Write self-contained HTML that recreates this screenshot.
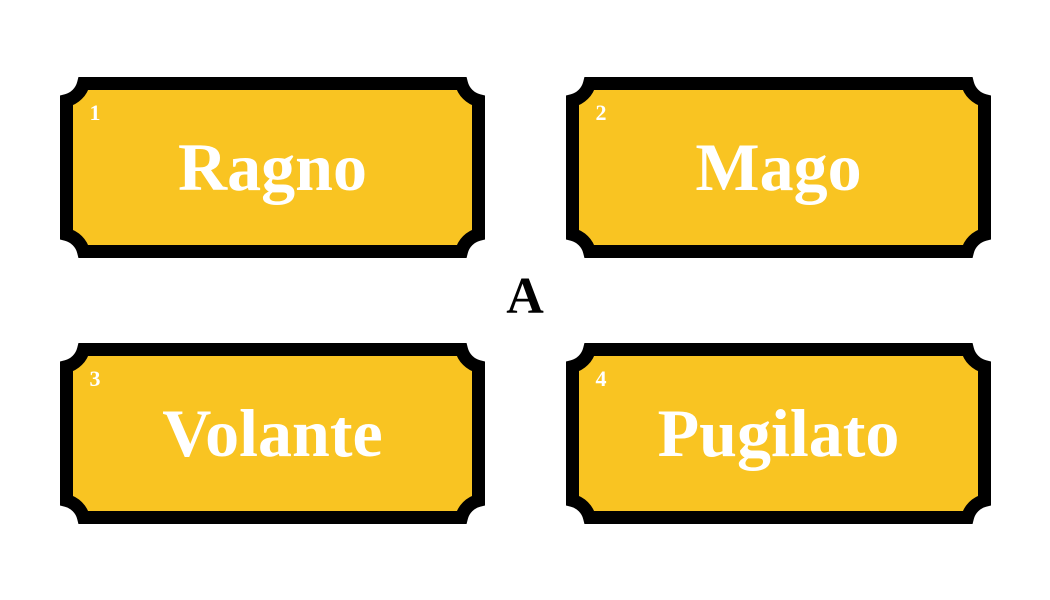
<!DOCTYPE html>
<html><head><meta charset="utf-8"><style>
html,body{margin:0;padding:0;background:#fff;width:1050px;height:600px;overflow:hidden}
svg text{font-family:"Liberation Serif",serif;font-weight:bold}
</style></head><body>
<svg width="1050" height="600" viewBox="0 0 1050 600">
<script>
const labels=["Ragno","Mago","Volante","Pugilato"];
const nums=["1","2","3","4"];
</script>
<g id="cards"></g>
<text x="525" y="313" text-anchor="middle" font-size="52" fill="#000">A</text>
<script>
const g=document.getElementById('cards');
const ns='http://www.w3.org/2000/svg';
const pos=[[60,77],[566,77],[60,343],[566,343]];
const W=425,H=181,r=23.5,s=6.5;
labels.forEach((lab,i)=>{
  const [x0,y0]=pos[i];
  const grp=document.createElementNS(ns,'g');
  
  
  const L=x0+s,T=y0+s,R=x0+W-s,B=y0+H-s;
  const p=document.createElementNS(ns,'path');
  const d2=`M${L+r-s} ${T} L${R-r+s} ${T} A${r} ${r} 0 0 0 ${R} ${T+r-s} L${R} ${B-r+s} A${r} ${r} 0 0 0 ${R-r+s} ${B} L${L+r-s} ${B} A${r} ${r} 0 0 0 ${L} ${B-r+s} L${L} ${T+r-s} A${r} ${r} 0 0 0 ${L+r-s} ${T} Z`;
  p.setAttribute('d',d2);
  p.setAttribute('fill','#F9C422');
  p.setAttribute('stroke','#000');
  p.setAttribute('stroke-width','13');
  
  
  grp.appendChild(p);
  const n=document.createElementNS(ns,'text');
  n.setAttribute('x',x0+35);n.setAttribute('y',y0+43);
  n.setAttribute('font-size','22');n.setAttribute('fill','#fff');n.setAttribute('text-anchor','middle');
  n.textContent=nums[i];
  
  
  grp.appendChild(n);
  const t=document.createElementNS(ns,'text');
  t.setAttribute('x',x0+W/2);t.setAttribute('y',y0+113);
  t.setAttribute('font-size','68');t.setAttribute('fill','#fff');t.setAttribute('text-anchor','middle');
  t.textContent=lab;
  
  
  grp.appendChild(t);
  g.appendChild(grp);
});
</script>
</svg>
</body></html>
